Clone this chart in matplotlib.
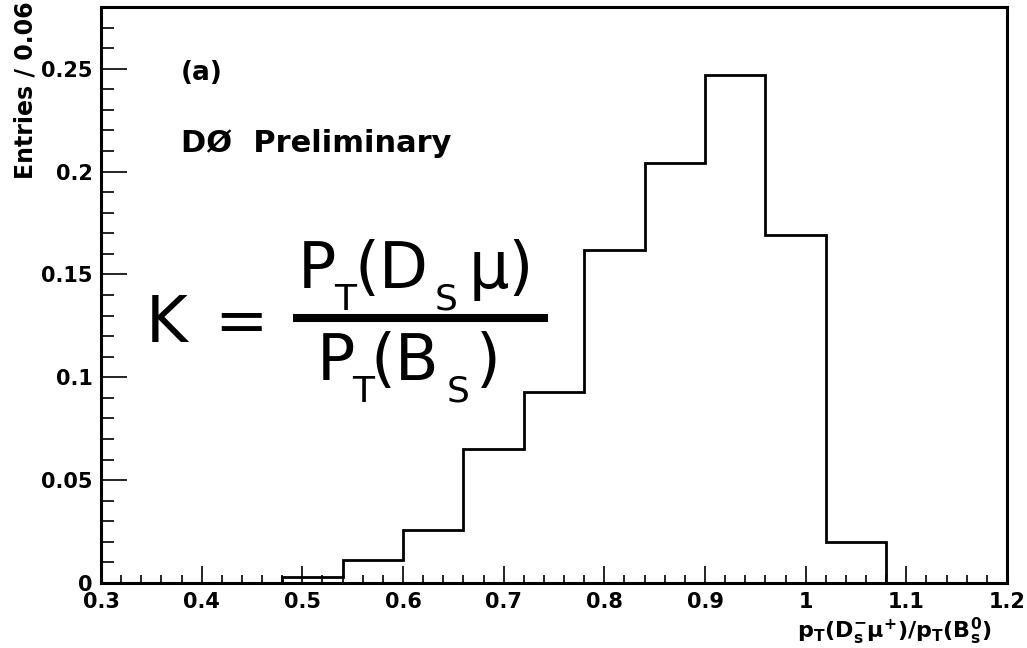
import numpy as np
import matplotlib
matplotlib.use("Agg")
import matplotlib.pyplot as plt
from matplotlib.lines import Line2D
from matplotlib.ticker import MultipleLocator, FuncFormatter

# Histogram of the momentum ratio K, bin width 0.06
bin_edges = np.round(np.arange(0.30, 1.2001, 0.06), 2)
entries = [0.0, 0.0, 0.0, 0.003, 0.011, 0.026, 0.065, 0.093,
           0.162, 0.204, 0.247, 0.169, 0.020, 0.0, 0.0]

x_ticks = [0.3, 0.4, 0.5, 0.6, 0.7, 0.8, 0.9, 1.0, 1.1, 1.2]
y_ticks = [0.0, 0.05, 0.10, 0.15, 0.20, 0.25]

plt.rcParams["mathtext.fontset"] = "dejavusans"

W, H = 1027, 648
fig = plt.figure(figsize=(W / 100, H / 100), dpi=100)
ax = fig.add_axes([101 / W, 65 / H, 906 / W, 576 / H])

ax.stairs(entries, bin_edges, color="black", linewidth=2.0, baseline=0)

ax.set_xlim(0.3, 1.2)
ax.set_ylim(0, 0.28)
ax.set_xticks(x_ticks)
ax.set_yticks(y_ticks)
ax.xaxis.set_minor_locator(MultipleLocator(0.02))
ax.yaxis.set_minor_locator(MultipleLocator(0.01))


def fmt(v, _):
    s = f"{v:.2f}".rstrip("0").rstrip(".")
    return s if s else "0"


ax.xaxis.set_major_formatter(FuncFormatter(fmt))
ax.yaxis.set_major_formatter(FuncFormatter(fmt))

for sp in ax.spines.values():
    sp.set_linewidth(2.2)

ax.tick_params(axis="both", which="both", direction="in", width=1.2,
               top=False, right=False, labelsize=15)
ax.tick_params(axis="y", which="major", length=19, pad=6)
ax.tick_params(axis="y", which="minor", length=9)
ax.tick_params(axis="x", which="major", length=12, pad=6.5)
ax.tick_params(axis="x", which="minor", length=6)
for lab in ax.get_xticklabels() + ax.get_yticklabels():
    lab.set_fontweight("bold")


def fx(px):
    return px / W


def fy(py):
    return 1 - py / H


# Axis titles
fig.text(fx(26), fy(1), "Entries / 0.06", rotation=90, ha="center", va="top",
         fontsize=17, fontweight="bold")
fig.text(fx(992), fy(638), r"$\mathbf{p_{T}(D_{s}^{-}\mu^{+})/p_{T}(B_{s}^{0})}$",
         ha="right", va="baseline", fontsize=16)

# Panel annotations
fig.text(fx(181), fy(80), "(a)", fontsize=19, fontweight="bold",
         ha="left", va="baseline")
fig.text(fx(181), fy(152), "DØ  Preliminary", fontsize=22, fontweight="bold",
         ha="left", va="baseline")

# Definition of K
big, small = 46, 26
fam = "DejaVu Sans"
fig.text(fx(146), fy(342), "K", fontsize=big, family=fam, va="baseline")
fig.text(fx(214), fy(342), "=", fontsize=big, family=fam, va="baseline")

# numerator
fig.text(fx(298), fy(288), "P", fontsize=big, family=fam, va="baseline")
fig.text(fx(334), fy(310), "T", fontsize=small, family=fam, va="baseline")
fig.text(fx(354), fy(288), "(D", fontsize=big, family=fam, va="baseline")
fig.text(fx(435), fy(310), "S", fontsize=small, family=fam, va="baseline")
fig.text(fx(469), fy(288), "μ)", fontsize=big, family=fam, va="baseline")

# fraction bar
fig.add_artist(Line2D([fx(293), fx(548)], [fy(318), fy(318)],
                      transform=fig.transFigure, color="black",
                      linewidth=5.8, solid_capstyle="butt"))

# denominator
fig.text(fx(317), fy(380), "P", fontsize=big, family=fam, va="baseline")
fig.text(fx(352), fy(402), "T", fontsize=small, family=fam, va="baseline")
fig.text(fx(371), fy(380), "(B", fontsize=big, family=fam, va="baseline")
fig.text(fx(447), fy(402), "S", fontsize=small, family=fam, va="baseline")
fig.text(fx(476), fy(380), ")", fontsize=big, family=fam, va="baseline")

fig.savefig("out.png", dpi=100)
